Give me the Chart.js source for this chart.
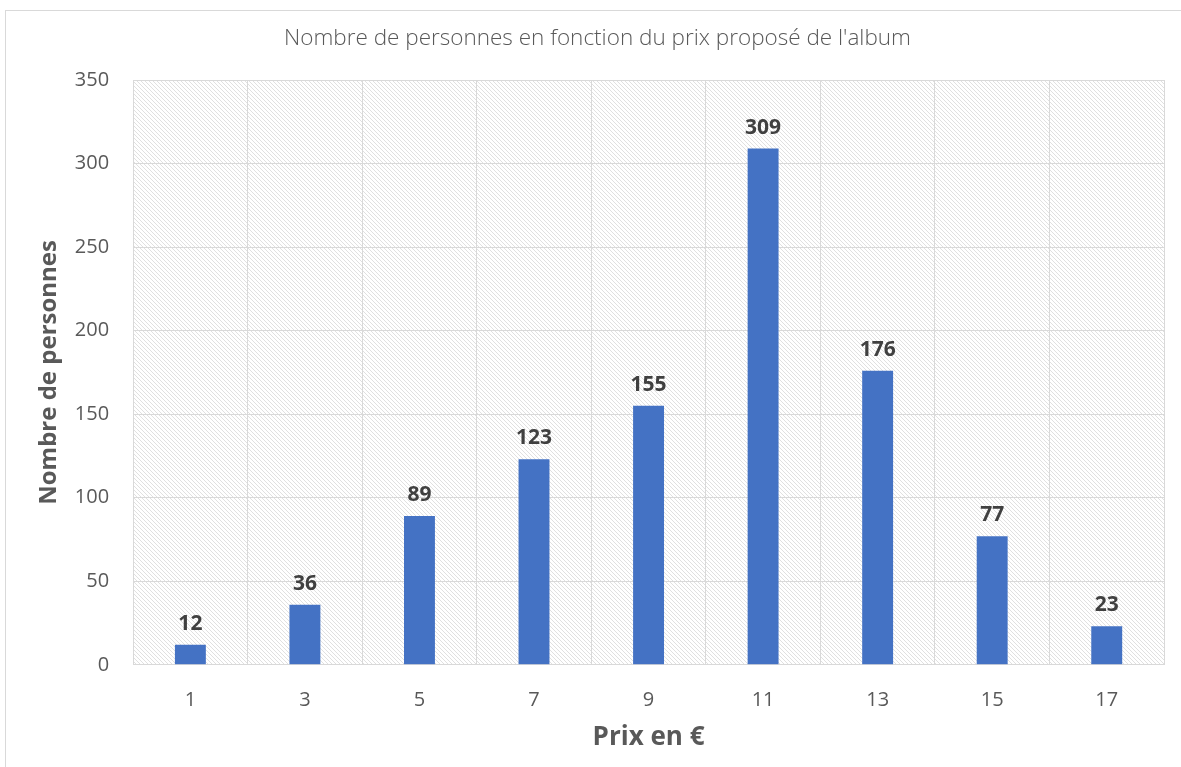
<!DOCTYPE html>
<html>
<head>
<meta charset="utf-8">
<script src="https://cdn.jsdelivr.net/npm/chart.js@4/dist/chart.umd.min.js"></script>
<style>
    html, body { margin: 0; padding: 0; background: #fff; overflow: hidden; }
    #wrap { position: absolute; left: 5px; top: 10px; width: 1200px; height: 800px; border: 1px solid #d9d9d9; box-sizing: border-box; }
    #box { position: absolute; left: 0; top: 0; width: 1181px; height: 767px; }
</style>
</head>
<body>
<div id="wrap"></div>
<div id="box"><canvas id="prix-chart"></canvas></div>
<script>
// Data
var prix = ['1', '3', '5', '7', '9', '11', '13', '15', '17'];
var personnes = [12, 36, 89, 123, 155, 309, 176, 77, 23];
var yTicks = [0, 50, 100, 150, 200, 250, 300, 350];

var textGrey = '#595959';
var fontFamily = "'Open Sans', 'Noto Sans', sans-serif";

// Hatched background of the plot area (light downward diagonal)
function makeHatch(ctx) {
    var c = document.createElement('canvas');
    c.width = 4; c.height = 4;
    var x = c.getContext('2d');
    x.fillStyle = '#ffffff';
    x.fillRect(0, 0, 4, 4);
    x.fillStyle = '#e0e0e0';
    for (var i = 0; i < 4; i++) {
        x.fillRect(i, i, 1, 1);
    }
    return ctx.createPattern(c, 'repeat');
}

var hatchPlugin = {
    id: 'hatch',
    beforeDraw: function (chart) {
        var a = chart.chartArea;
        var ctx = chart.ctx;
        ctx.save();
        ctx.fillStyle = makeHatch(ctx);
        ctx.fillRect(a.left, a.top, a.right - a.left, a.bottom - a.top);
        ctx.restore();
    }
};

// Bold value labels above the bars
var valueLabels = {
    id: 'valueLabels',
    afterDatasetsDraw: function (chart) {
        var ctx = chart.ctx;
        var meta = chart.getDatasetMeta(0);
        ctx.save();
        ctx.font = "bold 21px " + fontFamily;
        ctx.fillStyle = '#404040';
        ctx.textAlign = 'center';
        ctx.textBaseline = 'alphabetic';
        meta.data.forEach(function (bar, i) {
            ctx.fillText(personnes[i], bar.x, bar.y - 15);
        });
        ctx.restore();
    }
};

var ctx = document.getElementById('prix-chart');

var prixChart = new Chart(ctx, {
    type: 'bar',
    data: {
        labels: prix,
        datasets: [{
            label: 'Nombre de personnes',
            data: personnes,
            backgroundColor: '#4472c4',
            barPercentage: 0.27,
            categoryPercentage: 1
        }]
    },
    options: {
        responsive: true,
        maintainAspectRatio: false,
        animation: false,
        layout: { padding: { left: 31, right: 17, top: 22, bottom: 14 } },
        plugins: {
            legend: { display: false },
            tooltip: { enabled: false },
            title: {
                display: true,
                text: "Nombre de personnes en fonction du prix proposé de l'album",
                color: textGrey,
                font: { family: fontFamily, size: 22.5, weight: 300 },
                padding: { top: 3, bottom: 28 }
            }
        },
        scales: {
            x: {
                grid: { color: '#d9d9d9', lineWidth: 1, drawTicks: false },
                border: { color: '#d9d9d9' },
                ticks: { color: textGrey, font: { family: fontFamily, size: 20 }, padding: 23 },
                title: {
                    display: true,
                    text: 'Prix en €',
                    color: textGrey,
                    font: { family: fontFamily, size: 26, weight: 'bold' },
                    padding: { top: 10, bottom: 0 }
                },
                // tighten the gap between tick labels and axis title
                afterFit: function (axis) { axis.height -= 23; }
            },
            y: {
                min: 0,
                max: 350,
                afterBuildTicks: function (axis) {
                    axis.ticks = yTicks.map(function (v) { return { value: v }; });
                },
                grid: { color: '#d9d9d9', lineWidth: 1, drawTicks: false },
                border: { color: '#d9d9d9' },
                ticks: { color: textGrey, font: { family: fontFamily, size: 20 }, padding: 24 },
                title: {
                    display: true,
                    text: 'Nombre de personnes',
                    color: textGrey,
                    font: { family: fontFamily, size: 24, weight: 'bold' },
                    padding: { top: 4, bottom: 11 }
                },
                afterFit: function (axis) { axis.width -= 24; }
            }
        }
    },
    plugins: [hatchPlugin, valueLabels]
});
</script>
</body>
</html>
